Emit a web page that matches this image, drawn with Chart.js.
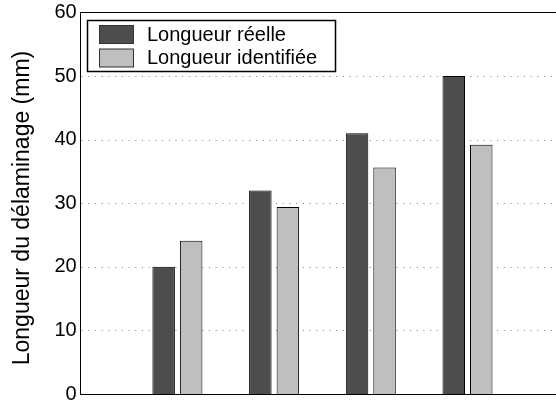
<!DOCTYPE html>
<html>
<head>
<meta charset="utf-8">
<script src="https://cdn.jsdelivr.net/npm/chart.js@4/dist/chart.umd.min.js"></script>
<style>
  html, body { margin: 0; padding: 0; background: #fff; overflow: hidden; }
  #wrap { width: 580px; height: 401px; }
</style>
</head>
<body>
<div id="wrap"><canvas id="c" width="580" height="401"></canvas></div>
<script>
// ---- data ----
const categories = ['1', '2', '3', '4'];
const seriesNames = ['Longueur réelle', 'Longueur identifiée'];
const realLength = [20, 32, 41, 50];
const identifiedLength = [24.1, 29.4, 35.6, 39.2];
const yTicks = [0, 10, 20, 30, 40, 50, 60];
const yTitle = 'Longueur du délaminage (mm)';

const colors = ['#4d4d4d', '#bfbfbf'];
const FONT = 'Liberation Sans, Arial, Helvetica, sans-serif';

// padded categories so groups sit at positions 1..4 on a 0..5 axis
const labels = [''].concat(categories, ['']);
const pad = arr => [null].concat(arr, [null]);

const gridPlugin = {
  id: 'matlabGrid',
  beforeDatasetsDraw(chart) {
    const {ctx, chartArea} = chart;
    const y = chart.scales.y;
    ctx.save();
    ctx.strokeStyle = '#808080';
    ctx.lineWidth = 1;
    ctx.setLineDash([1, 5.7]);
    yTicks.forEach(v => {
      if (v === yTicks[0] || v === yTicks[yTicks.length - 1]) return;
      const py = Math.round(y.getPixelForValue(v)) + 0.5;
      ctx.beginPath();
      ctx.moveTo(chartArea.left + 1, py);
      ctx.lineTo(chartArea.right, py);
      ctx.stroke();
    });
    ctx.setLineDash([]);
    ctx.strokeStyle = '#000';
    const top = Math.round(y.getPixelForValue(yTicks[yTicks.length - 1])) + 0.5;
    ctx.beginPath();
    ctx.moveTo(chartArea.left, top);
    ctx.lineTo(chartArea.right, top);
    ctx.stroke();
    ctx.restore();
  }
};

const titlePlugin = {
  id: 'yTitle',
  afterDraw(chart) {
    const {ctx} = chart;
    ctx.save();
    ctx.translate(23, 208);
    ctx.rotate(-Math.PI / 2);
    ctx.font = '23px ' + FONT;
    ctx.fillStyle = '#000';
    ctx.textAlign = 'center';
    ctx.textBaseline = 'middle';
    ctx.fillText(yTitle, 0, 0);
    ctx.restore();
  }
};

const legendPlugin = {
  id: 'boxLegend',
  afterDraw(chart) {
    const {ctx} = chart;
    const bx = 87.5, by = 20.5, bw = 248, bh = 51;
    ctx.save();
    ctx.fillStyle = '#fff';
    ctx.fillRect(bx, by, bw, bh);
    ctx.strokeStyle = '#000';
    ctx.lineWidth = 1.5;
    ctx.strokeRect(bx, by, bw, bh);
    ctx.font = '20px ' + FONT;
    ctx.textBaseline = 'middle';
    ctx.textAlign = 'left';
    chart.data.datasets.forEach((ds, i) => {
      const sy = 25.5 + i * 23.5;
      ctx.fillStyle = ds.backgroundColor;
      ctx.fillRect(99.5, sy, 34, 18);
      ctx.lineWidth = 1;
      ctx.strokeStyle = '#333';
      ctx.strokeRect(99.5, sy, 34, 18);
      ctx.fillStyle = '#000';
      ctx.fillText(ds.label, 147, sy + 9.5);
    });
    ctx.restore();
  }
};

new Chart(document.getElementById('c'), {
  type: 'bar',
  data: {
    labels: labels,
    datasets: [
      { label: seriesNames[0], data: pad(realLength), backgroundColor: colors[0],
        borderColor: '#000', borderWidth: 1 },
      { label: seriesNames[1], data: pad(identifiedLength), backgroundColor: colors[1],
        borderColor: '#000', borderWidth: 1 }
    ]
  },
  options: {
    responsive: false,
    animation: false,
    devicePixelRatio: 1,
    datasets: { bar: { categoryPercentage: 0.569, barPercentage: 0.818 } },
    layout: { padding: { left: 0, top: 12.4, right: 15.8, bottom: 0 } },
    plugins: { legend: { display: false }, tooltip: { enabled: false } },
    scales: {
      x: {
        type: 'category',
        offset: false,
        grid: { display: false },
        ticks: { display: false },
        border: { display: true, color: '#000', width: 1 },
        afterFit(s) { s.height = 7; s.paddingLeft = 0; s.paddingRight = 0; }
      },
      y: {
        min: 0, max: 60,
        afterBuildTicks(s) { s.ticks = yTicks.map(v => ({ value: v })); },
        grid: { display: false, drawTicks: false },
        border: { display: true, color: '#000', width: 1 },
        ticks: { color: '#000', padding: 4, font: { family: FONT, size: 20 } },
        title: { display: false },
        afterFit(s) { s.width = 80.7; s.paddingTop = 0; s.paddingBottom = 0; }
      }
    }
  },
  plugins: [gridPlugin, legendPlugin, titlePlugin]
});
</script>
</body>
</html>
